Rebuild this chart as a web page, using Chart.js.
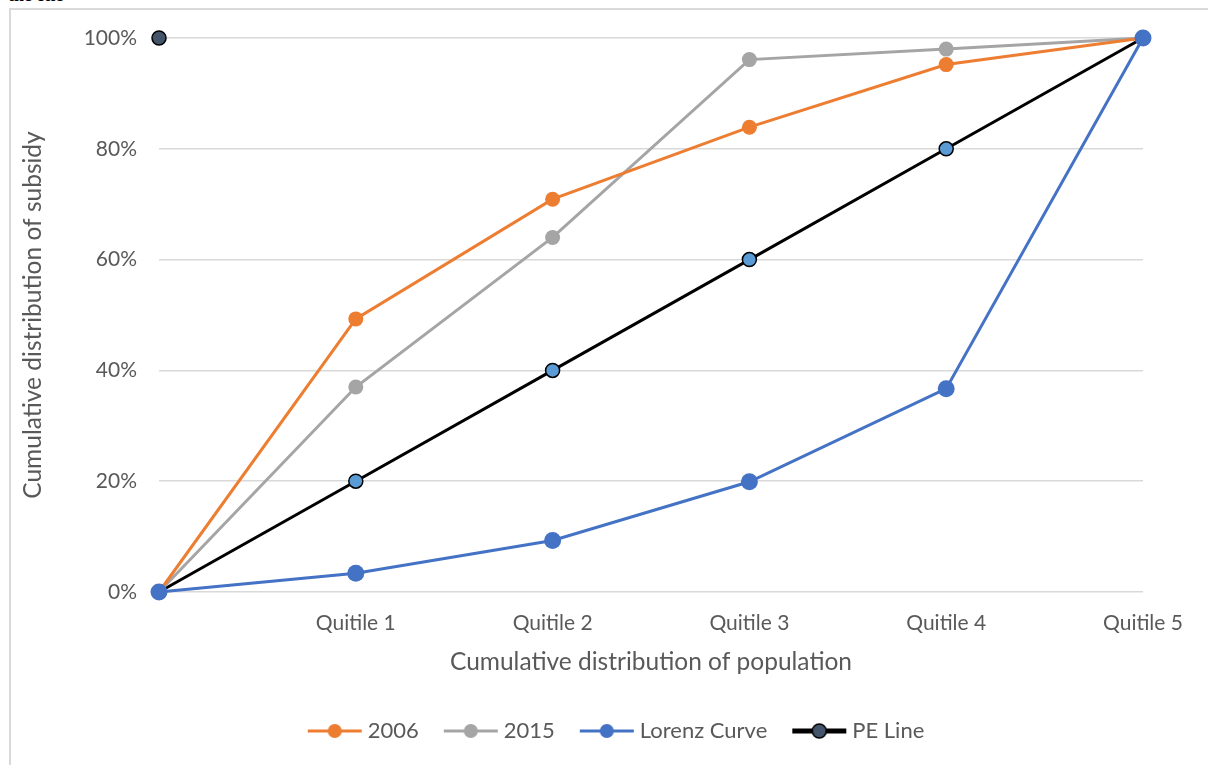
<!DOCTYPE html>
<html>
<head>
<meta charset="utf-8">
<script src="https://cdn.jsdelivr.net/npm/chart.js@4"></script>
<style>
  body { margin: 0; background: #fff; overflow: hidden; }
  #wrap { position: relative; width: 1208px; height: 765px; }
  #frame { position: absolute; left: 9px; top: 8px; width: 1400px; height: 900px;
           border: 2px solid #d9d9d9; box-sizing: border-box; }
  #cut { position: absolute; left: 8px; top: -15px; font: bold 18px "Liberation Serif", serif; color: #000; }
  canvas { position: absolute; left: 0; top: 0; }
</style>
</head>
<body>
<div id="wrap">
  <div id="cut">the one</div>
  <div id="frame"></div>
  <canvas id="chart" width="1208" height="765"></canvas>
</div>
<script>
// categories on the x axis (first point is the origin)
const categories = ["", "Quitile 1", "Quitile 2", "Quitile 3", "Quitile 4", "Quitile 5"];
const s2006  = [0, 0.493, 0.709, 0.839, 0.952, 1];
const s2015  = [0, 0.370, 0.640, 0.961, 0.980, 1];
const lorenz = [0, 0.034, 0.093, 0.199, 0.367, 1];
const peLine = [0, 0.2, 0.4, 0.6, 0.8, 1];
const peTop  = [1, null, null, null, null, null];
const yTicks = [0, 0.2, 0.4, 0.6, 0.8, 1];

const FONT = "Lato, 'Noto Sans', sans-serif";
const TXT = "#595959";

// little "line + marker" picture for the legend
function legendIcon(color, fill, border, lw) {
    const c = document.createElement("canvas");
    c.width = 56; c.height = 18;
    const g = c.getContext("2d");
    g.strokeStyle = color; g.lineWidth = lw;
    g.beginPath(); g.moveTo(1, 9); g.lineTo(55, 9); g.stroke();
    g.beginPath(); g.arc(28, 9, 7, 0, Math.PI * 2);
    g.fillStyle = fill; g.fill();
    if (border) { g.strokeStyle = border; g.lineWidth = 1.5; g.stroke(); }
    return c;
}
const icons = [
    legendIcon("#ed7d31", "#ed7d31", null, 3),
    legendIcon("#a5a5a5", "#a5a5a5", null, 3),
    legendIcon("#4472c4", "#4472c4", null, 3),
    legendIcon("#000000", "#44546a", "#000000", 5)
];

// legend sits a bit right of the plot centre in the original
const legendShift = {
    id: "legendShift",
    afterLayout(chart) { chart.legend.left += 47; chart.legend.right += 47; }
};

const ctx = document.getElementById("chart").getContext("2d");
new Chart(ctx, {
    type: "line",
    data: {
        labels: categories,
        datasets: [
            { label: "2006", data: s2006, borderColor: "#ed7d31", backgroundColor: "#ed7d31",
              borderWidth: 3, pointRadius: 7.5, pointBorderWidth: 0, order: 2, clip: false },
            { label: "2015", data: s2015, borderColor: "#a5a5a5", backgroundColor: "#a5a5a5",
              borderWidth: 3, pointRadius: 7.5, pointBorderWidth: 0, order: 3, clip: false },
            { label: "Lorenz Curve", data: lorenz, borderColor: "#4472c4", backgroundColor: "#4472c4",
              borderWidth: 3, pointRadius: 8.5, pointBorderWidth: 0, order: 0, clip: false },
            { label: "PE Line", data: peLine, borderColor: "#000000", backgroundColor: "#5b9bd5",
              borderWidth: 3, pointRadius: 7, pointBorderWidth: 1.5, pointBorderColor: "#000000", order: 4, clip: false },
            { label: "PE top", data: peTop, showLine: false, backgroundColor: "#44546a",
              pointBorderColor: "#000000", pointBorderWidth: 1.5, pointRadius: 7, order: 1, clip: false }
        ]
    },
    options: {
        responsive: false,
        animation: false,
        layout: { padding: { left: 0, right: 65, top: 38, bottom: 13 } },
        plugins: {
            tooltip: { enabled: false },
            legend: {
                position: "bottom",
                labels: {
                    usePointStyle: true,
                    pointStyleWidth: 44,
                    boxHeight: 18,
                    padding: 30,
                    color: TXT,
                    font: { family: FONT, size: 22 },
                    filter: (item) => item.datasetIndex < 4,
                    sort: (a, b) => a.datasetIndex - b.datasetIndex,
                    generateLabels: (chart) => {
                        const items = Chart.defaults.plugins.legend.labels.generateLabels(chart);
                        items.forEach(it => { if (it.datasetIndex < 4) it.pointStyle = icons[it.datasetIndex]; });
                        return items;
                    }
                }
            }
        },
        scales: {
            x: {
                grid: { display: false, drawTicks: false },
                border: { display: false },
                ticks: { color: TXT, font: { family: FONT, size: 21 }, padding: 19, maxRotation: 0, autoSkip: false },
                title: { display: true, text: "Cumulative distribution of population", color: TXT,
                         font: { family: FONT, size: 24.5 }, padding: { top: 4, bottom: 13 } },
                afterFit: (s) => { s.height = 98; }
            },
            y: {
                min: 0, max: 1,
                afterBuildTicks: (s) => { s.ticks = yTicks.map(v => ({ value: v })); },
                grid: { color: "#d9d9d9", lineWidth: 1.5, drawTicks: false },
                border: { display: false },
                ticks: { color: TXT, font: { family: FONT, size: 21 }, padding: 22,
                         callback: (v) => Math.round(v * 100) + "%" },
                title: { display: true, text: "Cumulative distribution of subsidy", color: TXT,
                         font: { family: FONT, size: 24.5 }, padding: { top: 18, bottom: 4 } },
                afterFit: (s) => { s.width = 159; }
            }
        }
    },
    plugins: [legendShift]
});
</script>
</body>
</html>
